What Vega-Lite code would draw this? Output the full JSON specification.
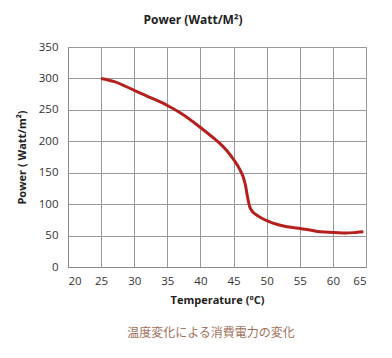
{
  "$schema": "https://vega.github.io/schema/vega-lite/v6.json",
  "background": "white",
  "padding": {"left": 16, "right": 10, "top": 14, "bottom": 5},
  "config": {"view": {"stroke": null}, "font": "Open Sans", "concat": {"spacing": 0}},
  "title": {"text": "温度変化による消費電力の変化", "orient": "bottom", "anchor": "middle", "frame": "group", "fontSize": 12, "fontWeight": "normal", "color": "#a0705a", "font": "Noto Sans CJK JP", "offset": 22, "dx": -6},
  "vconcat": [
    {
      "width": 298,
      "height": 220,
      "title": {"text": "Power (Watt/M²)", "fontSize": 12, "fontWeight": "bold", "color": "#222", "anchor": "middle", "offset": 14, "dx": -24},
      "data": {"values": [
        {"t": 25, "p": 300}, {"t": 27, "p": 295}, {"t": 30, "p": 281}, {"t": 33, "p": 267},
        {"t": 35, "p": 257}, {"t": 37, "p": 245}, {"t": 40, "p": 222}, {"t": 42, "p": 205},
        {"t": 43, "p": 196}, {"t": 44, "p": 185}, {"t": 45, "p": 171}, {"t": 46, "p": 154},
        {"t": 46.5, "p": 142}, {"t": 46.8, "p": 130}, {"t": 47.1, "p": 112}, {"t": 47.4, "p": 97},
        {"t": 47.8, "p": 89}, {"t": 48.3, "p": 84}, {"t": 49.2, "p": 78}, {"t": 50.2, "p": 73},
        {"t": 51.5, "p": 68}, {"t": 53.1, "p": 64}, {"t": 55.2, "p": 61}, {"t": 56.5, "p": 59},
        {"t": 58.1, "p": 56}, {"t": 60.2, "p": 55}, {"t": 62, "p": 54}, {"t": 63.5, "p": 55},
        {"t": 64.6, "p": 56}
      ]},
      "mark": {"type": "line", "color": "#b5201f", "strokeWidth": 3, "interpolate": "monotone"},
      "encoding": {
        "x": {"field": "t", "type": "quantitative", "scale": {"domain": [20, 65], "nice": false, "zero": false},
          "axis": {"values": [20,25,30,35,40,45,50,55,60,65], "title": "Temperature (ºC)", "titleFontSize": 11, "titleFontWeight": "bold", "titleColor": "#222", "labelFontSize": 11.5, "labelColor": "#333", "gridColor": "#999", "domainColor": "#888", "ticks": false, "labelPadding": 8, "titlePadding": 8}},
        "y": {"field": "p", "type": "quantitative", "scale": {"domain": [0, 350], "nice": false},
          "axis": {"values": [0,50,100,150,200,250,300,350], "title": "Power  ( Watt/m²)", "titleFontSize": 11, "titleFontWeight": "bold", "titleColor": "#222", "labelFontSize": 11.5, "labelColor": "#333", "gridColor": "#999", "domainColor": "#888", "ticks": false, "labelPadding": 10, "titlePadding": 11}}
      }
    }
  ]
}
